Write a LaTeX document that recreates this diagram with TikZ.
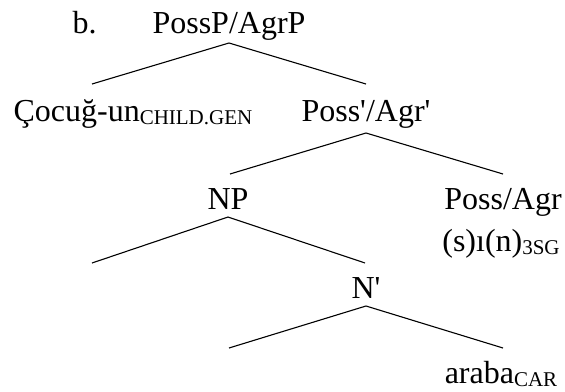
\documentclass[tikz,border=0pt]{standalone}
\usepackage{fontspec}
\setmainfont{Liberation Serif}
\newcommand{\gloss}[1]{\raisebox{-3pt}{\fontsize{21}{25}\selectfont #1}}

\begin{document}
\begin{tikzpicture}[x=1pt, y=-1pt, word node/.style={inner sep=0pt, anchor=base, font=\fontsize{32}{38}\selectfont}]
        \tikzstyle{every path}=[line width=1.1pt]
        \useasboundingbox (0,0) rectangle (565,391);

          \node[word node, anchor=base west] (b) at (72,33) {b.};
          \node[word node] (0) at (229,33) {PossP/AgrP};
          \node[word node, anchor=base west] (1) at (13,121) {Çocuğ-un\gloss{CHILD.GEN}};
          \node[word node] (2) at (366,121) {Poss\textquotesingle/Agr\textquotesingle};
          \node[word node] (3) at (228,209) {NP};
          \node[word node] (4) at (503,209) {Poss/Agr};
          \node[word node] (5) at (501,251) {(s)ı(n)\gloss{3SG}};
          \node[word node] (6) at (366,298) {N\textquotesingle};
          \node[word node] (7) at (501,383) {araba\gloss{CAR}};

          % branch points
          \coordinate (t0) at (229,43);  \coordinate (l0) at (92,84);  \coordinate (r0) at (366,84);
          \coordinate (t2) at (366,133); \coordinate (l2) at (230,174); \coordinate (r2) at (503,174);
          \coordinate (t3) at (228,217); \coordinate (l3) at (92,263);  \coordinate (r3) at (365,263);
          \coordinate (t6) at (366,306); \coordinate (l6) at (229,348); \coordinate (r6) at (503,348);

          \draw (l0) -- (t0) -- (r0);
          \draw (l2) -- (t2) -- (r2);
          \draw (l3) -- (t3) -- (r3);
          \draw (l6) -- (t6) -- (r6);

        \end{tikzpicture}
\end{document}
